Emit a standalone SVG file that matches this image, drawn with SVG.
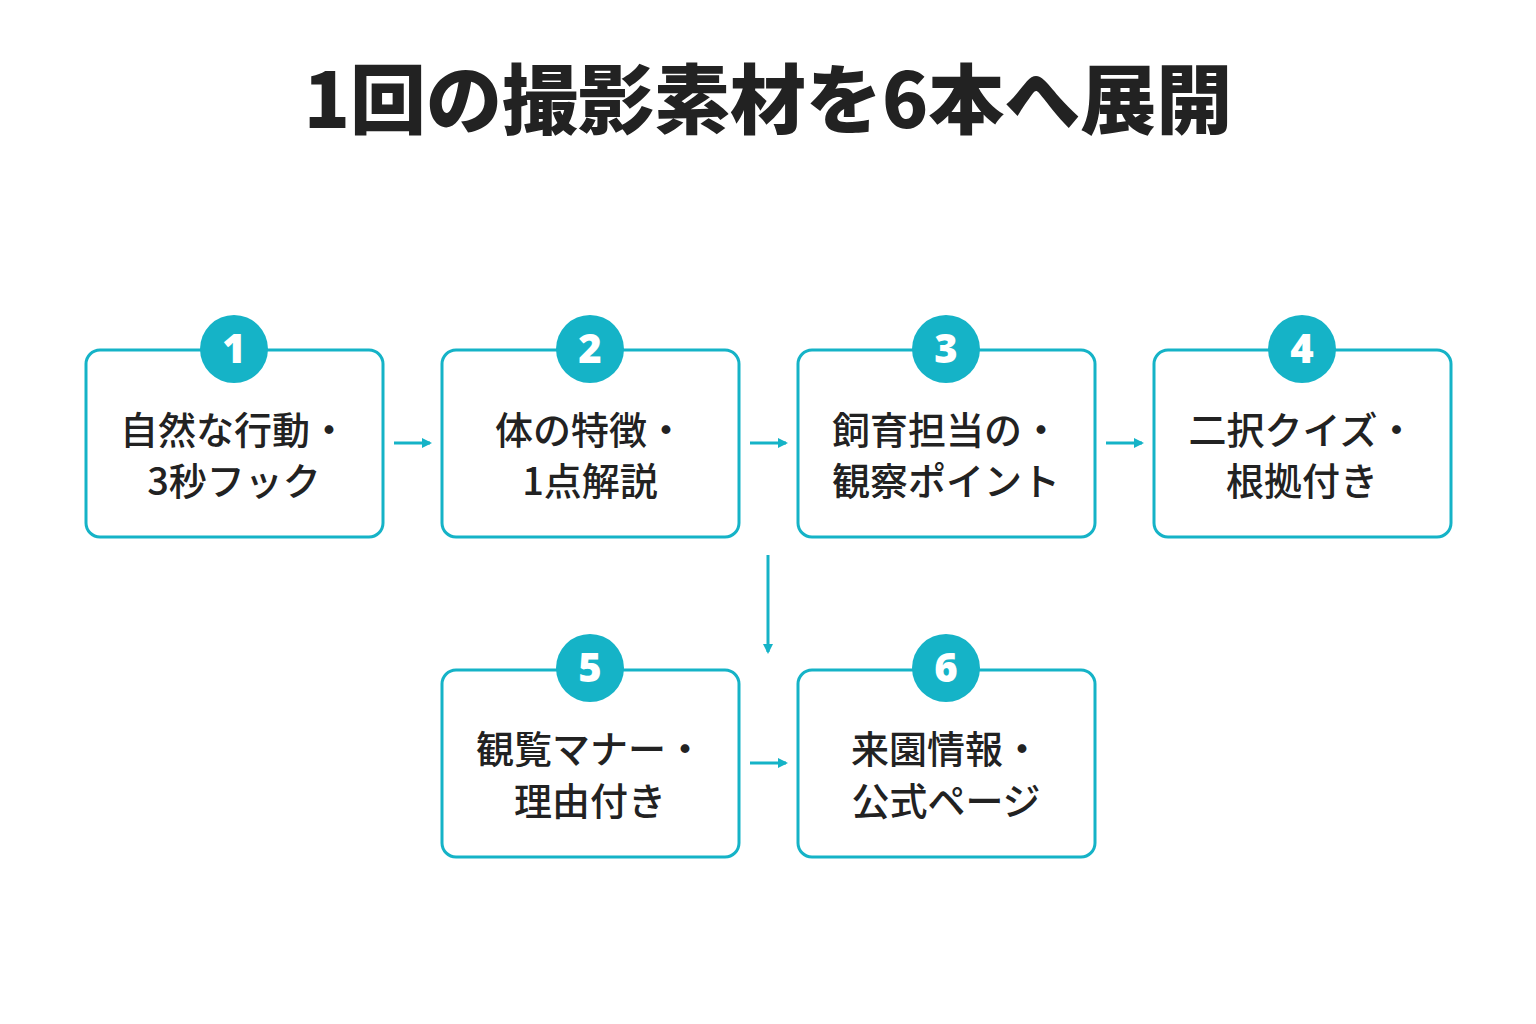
<svg xmlns="http://www.w3.org/2000/svg" width="1536" height="1024" viewBox="0 0 1536 1024">
<style>
.box{fill:#fff;stroke:#15B3C7;stroke-width:3}
.c{fill:#15B3C7}
.n{font-family:"Noto Sans","Noto Sans CJK JP",sans-serif;font-weight:900;font-size:40px;fill:#fff;text-anchor:middle}
.t{font-family:"Noto Sans CJK JP",sans-serif;font-weight:500;font-size:38px;fill:#222;text-anchor:middle}
.a{stroke:#15B3C7;stroke-width:3;fill:none;marker-end:url(#ah)}
</style>
<defs><marker id="ah" markerWidth="10" markerHeight="10" refX="8" refY="5" orient="auto" markerUnits="userSpaceOnUse"><path d="M0,0L10,5L0,10z" fill="#15B3C7"/></marker></defs>
<rect width="1536" height="1024" fill="#fff"/>
<text x="768" y="128" font-family="Noto Sans CJK JP,sans-serif" font-weight="900" font-size="76" fill="#222" text-anchor="middle">1回の撮影素材を6本へ展開</text>
<g id="connectors">
<line class="a" x1="394" y1="443" x2="430" y2="443"/>
<line class="a" x1="750" y1="443" x2="786" y2="443"/>
<line class="a" x1="1106" y1="443" x2="1142" y2="443"/>
<line class="a" x1="768" y1="555" x2="768" y2="652"/>
<line class="a" x1="750" y1="763" x2="786" y2="763"/>
</g>
<g id="n1"><rect class="box" x="86" y="350" width="297" height="187" rx="14"/><circle class="c" cx="234" cy="349" r="34"/><text class="n" x="234" y="363">1</text><text class="t" x="234" y="444">自然な行動・</text><text class="t" x="234" y="495">3秒フック</text></g>
<g id="n2"><rect class="box" x="442" y="350" width="297" height="187" rx="14"/><circle class="c" cx="590" cy="349" r="34"/><text class="n" x="590" y="363">2</text><text class="t" x="590" y="444">体の特徴・</text><text class="t" x="590" y="495">1点解説</text></g>
<g id="n3"><rect class="box" x="798" y="350" width="297" height="187" rx="14"/><circle class="c" cx="946" cy="349" r="34"/><text class="n" x="946" y="363">3</text><text class="t" x="946" y="444">飼育担当の・</text><text class="t" x="946" y="495">観察ポイント</text></g>
<g id="n4"><rect class="box" x="1154" y="350" width="297" height="187" rx="14"/><circle class="c" cx="1302" cy="349" r="34"/><text class="n" x="1302" y="363">4</text><text class="t" x="1302" y="444">二択クイズ・</text><text class="t" x="1302" y="495">根拠付き</text></g>
<g id="n5"><rect class="box" x="442" y="670" width="297" height="187" rx="14"/><circle class="c" cx="590" cy="668" r="34"/><text class="n" x="590" y="682">5</text><text class="t" x="590" y="763">観覧マナー・</text><text class="t" x="590" y="815">理由付き</text></g>
<g id="n6"><rect class="box" x="798" y="670" width="297" height="187" rx="14"/><circle class="c" cx="946" cy="668" r="34"/><text class="n" x="946" y="682">6</text><text class="t" x="946" y="763">来園情報・</text><text class="t" x="946" y="815">公式ページ</text></g>
</svg>
